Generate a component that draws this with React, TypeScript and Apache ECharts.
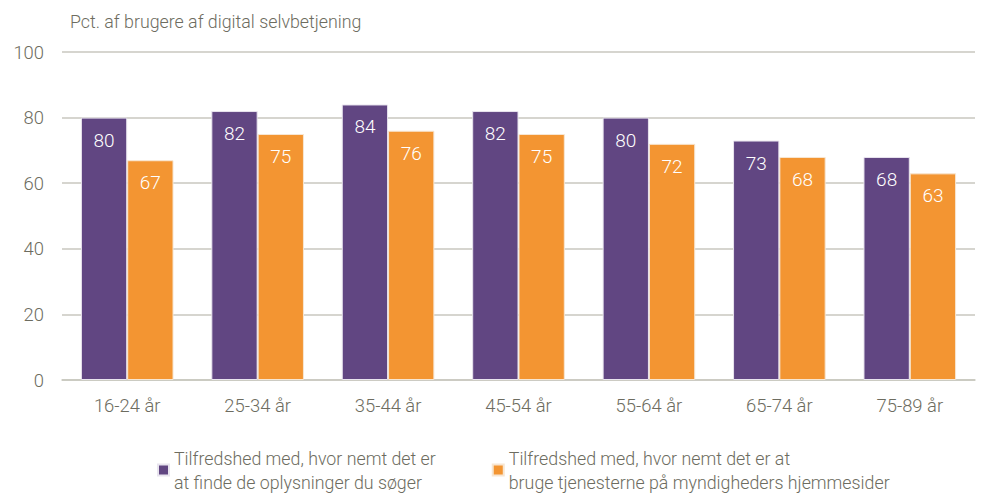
import React, { useEffect, useRef } from "react";
import * as echarts from "echarts";

const categories = ["16-24 år", "25-34 år", "35-44 år", "45-54 år", "55-64 år", "65-74 år", "75-89 år"];
const seriesFind = [80, 82, 84, 82, 80, 73, 68];
const seriesUse = [67, 75, 76, 75, 72, 68, 63];
const seriesNames = [
  "Tilfredshed med, hvor nemt det er\nat finde de oplysninger du søger",
  "Tilfredshed med, hvor nemt det er at\nbruge tjenesterne på myndigheders hjemmesider",
];
const yTicks = { min: 0, max: 100, interval: 20 };

const FONT = "Roboto, sans-serif";
const TEXT = "#6d6c60";

export default function App() {
  const ref = useRef<HTMLDivElement>(null);
  useEffect(() => {
    const chart = echarts.init(ref.current!, undefined, { renderer: "svg" });
    const label = {
      show: true,
      position: "insideTop",
      distance: 13,
      color: "#ffffff",
      fontSize: 19,
      fontWeight: 300,
      fontFamily: FONT,
    };
    chart.setOption({
      animation: false,
      textStyle: { fontFamily: FONT },
      title: {
        text: "Pct. af brugere af digital selvbetjening",
        left: 65,
        top: 7,
        textStyle: { color: TEXT, fontSize: 17.8, fontWeight: 300, fontFamily: FONT },
      },
      legend: {
        bottom: 2,
        left: 152,
        itemGap: 56,
        itemWidth: 11,
        itemHeight: 11,
        icon: "rect",
        textStyle: { color: TEXT, fontSize: 17.8, fontWeight: 300, fontFamily: FONT, lineHeight: 24 },
        data: seriesNames,
      },
      grid: { left: 62, right: 8, top: 52, bottom: 121, containLabel: false },
      xAxis: {
        type: "category",
        data: categories,
        axisLine: { lineStyle: { color: "#c8c7bf", width: 1.5 } },
        axisTick: { show: false },
        axisLabel: { color: TEXT, fontSize: 18.4, fontWeight: 300, fontFamily: FONT, margin: 16 },
      },
      yAxis: {
        type: "value",
        min: yTicks.min,
        max: yTicks.max,
        interval: yTicks.interval,
        axisLine: { show: false },
        axisTick: { show: false },
        axisLabel: { color: TEXT, fontSize: 18.4, fontWeight: 300, fontFamily: FONT, margin: 18 },
        splitLine: { lineStyle: { color: "#c8c7bf", width: 1.5 } },
      },
      series: [
        {
          name: seriesNames[0],
          type: "bar",
          data: seriesFind,
          barGap: "0%",
          barCategoryGap: "29%",
          itemStyle: { color: "#614682", borderColor: "#e8e4ee", borderWidth: 1 },
          label,
        },
        {
          name: seriesNames[1],
          type: "bar",
          data: seriesUse,
          barGap: "0%",
          barCategoryGap: "29%",
          itemStyle: { color: "#f39532", borderColor: "#f7e6d2", borderWidth: 1 },
          label,
        },
      ],
    });
    return () => chart.dispose();
  }, []);
  return <div ref={ref} style={{ width: 983, height: 501, position: "absolute", left: 0, top: 0 }} />;
}
